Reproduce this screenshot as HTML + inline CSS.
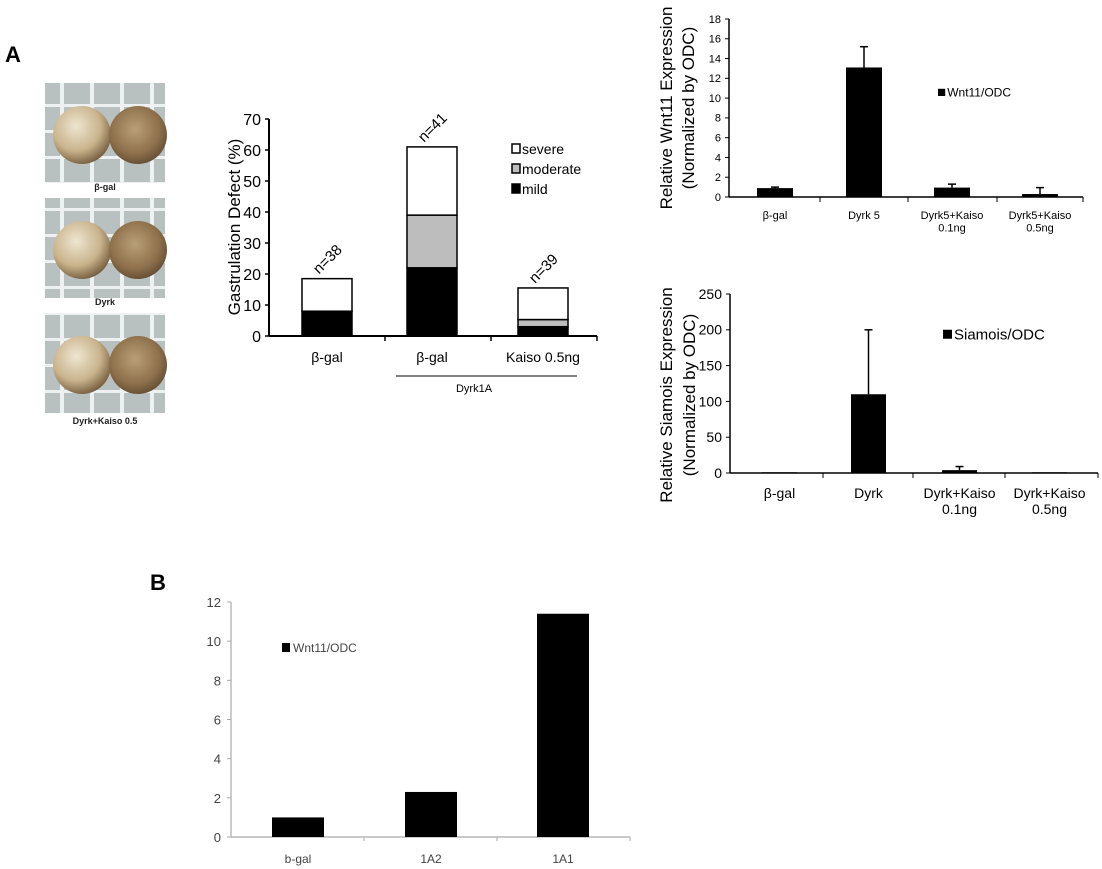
<!DOCTYPE html>
<html><head><meta charset="utf-8"><style>
body{margin:0;background:#fff;width:1102px;height:869px;overflow:hidden}
svg{display:block;font-family:"Liberation Sans",Arial,sans-serif}
</style></head><body>
<svg id="s" width="1102" height="869" viewBox="0 0 1102 869">
<defs>
<radialGradient id="egL" cx="40%" cy="35%" r="70%"><stop offset="0" stop-color="#eee6d2"/><stop offset="0.6" stop-color="#c9b38c"/><stop offset="1" stop-color="#6f5638"/></radialGradient>
<radialGradient id="egR" cx="45%" cy="40%" r="70%"><stop offset="0" stop-color="#b99f77"/><stop offset="0.6" stop-color="#8e714c"/><stop offset="1" stop-color="#54402b"/></radialGradient>
<pattern id="grid" width="30" height="26" patternUnits="userSpaceOnUse"><rect width="30" height="26" fill="#b8c0c0"/><path d="M0 1H30M2 0V26" stroke="#eef1f1" stroke-width="4"/></pattern>
</defs>
<text x="5" y="62" font-size="22" font-weight="bold">A</text>
<text x="150" y="590" font-size="22" font-weight="bold">B</text>
<g id="photos"></g>
<g id="c1"></g>
<g id="c2"></g>
<g id="c3"></g>
<g id="c4"></g>
</svg>
<script>
// Stacked chart data
const gCats = ["β-gal","β-gal","Kaiso 0.5ng"];
const gMild = [8,22,3];
const gModerate = [0,17,2.3];
const gSevere = [10.5,22,10.2];
const gN = ["n=38","n=41","n=39"];
const gTicks = [0,10,20,30,40,50,60,70];
// Wnt11 chart
const wCats = [["β-gal"],["Dyrk 5"],["Dyrk5+Kaiso","0.1ng"],["Dyrk5+Kaiso","0.5ng"]];
const wVals = [0.9,13.1,0.95,0.3];
const wErr = [0.1,2.1,0.35,0.65];
const wTicks = [0,2,4,6,8,10,12,14,16,18];
// Siamois chart
const sCats = [["β-gal"],["Dyrk"],["Dyrk+Kaiso","0.1ng"],["Dyrk+Kaiso","0.5ng"]];
const sVals = [1,110,4,1];
const sErr = [0,90,5,0];
const sTicks = [0,50,100,150,200,250];
// Panel B
const bCats = ["b-gal","1A2","1A1"];
const bVals = [1.0,2.3,11.4];
const bTicks = [0,2,4,6,8,10,12];

const NS="http://www.w3.org/2000/svg";
function mk(p,t,a,txt){const e=document.createElementNS(NS,t);for(const k in a)e.setAttribute(k,a[k]);if(txt!==undefined)e.textContent=txt;p.appendChild(e);return e;}

// Photos
const ph=document.getElementById('photos');
const panels=[[83,"β-gal",190],[198,"Dyrk",305],[313,"Dyrk+Kaiso 0.5",424]];
panels.forEach((p,i)=>{
  const r=mk(ph,'rect',{x:45,y:p[0],width:120,height:100,fill:'url(#grid)'});
  
  
  mk(ph,'circle',{cx:82,cy:p[0]+52,r:29,fill:'url(#egL)'});
  mk(ph,'circle',{cx:138,cy:p[0]+52,r:29,fill:'url(#egR)'});
  const t=mk(ph,'text',{x:105,y:p[2],'font-size':9,'font-weight':'bold','text-anchor':'middle',fill:'#222'},p[1]);
  
  
});

// Chart 1 stacked
(function(){
  const g=document.getElementById('c1');
  const x0=269,x1=597,y0=336,yTop=119,vmax=70;
  const y=v=>y0-(v/vmax)*(y0-yTop);
  const bx=[302,407,518], bw=50;
  mk(g,'line',{x1:x0,y1:y0,x2:x1,y2:y0,stroke:'#000','stroke-width':2});
  mk(g,'line',{x1:x0,y1:y0,x2:x0,y2:yTop,stroke:'#000','stroke-width':2});
  gTicks.forEach(t=>{mk(g,'line',{x1:x0-4,y1:y(t),x2:x0,y2:y(t),stroke:'#000','stroke-width':1.5});
    const l=mk(g,'text',{x:x0-8,y:y(t)+6,'font-size':16,'text-anchor':'end'},t);
    
    });
  [385,491,597].forEach(tx=>mk(g,'line',{x1:tx,y1:y0,x2:tx,y2:y0+5,stroke:'#000','stroke-width':1.5}));
  const yt=mk(g,'text',{x:0,y:0,'font-size':17,'text-anchor':'middle',transform:'translate(240,227) rotate(-90)'},'Gastrulation Defect (%)');
  
  
  gCats.forEach((c,i)=>{
    let b=0;
    [[gMild,'#000'],[gModerate,'#bdbdbd'],[gSevere,'#fff']].forEach(([arr,col])=>{
      const v=arr[i]; if(v<=0)return;
      const r=mk(g,'rect',{x:bx[i],y:y(b+v),width:bw,height:y(b)-y(b+v),fill:col,stroke:'#000','stroke-width':1.5});
      
      
      b+=v;});
    const n=mk(g,'text',{x:0,y:0,'font-size':15,transform:`translate(${bx[i]+bw/2-8},${y(b)-4}) rotate(-45)`},gN[i]);
    
    
    const l=mk(g,'text',{x:bx[i]+bw/2,y:362,'font-size':14,'text-anchor':'middle'},c);
    
    
  });
  mk(g,'line',{x1:396,y1:376,x2:577,y2:376,stroke:'#000','stroke-width':1});
  mk(g,'text',{x:474,y:392,'font-size':11,'text-anchor':'middle'},'Dyrk1A');
  [['severe','#fff',150],['moderate','#bdbdbd',170],['mild','#000',190]].forEach(([t,c,yy])=>{
    const r=mk(g,'rect',{x:512,y:yy-6,width:8,height:9,fill:c,stroke:'#000','stroke-width':1.5});
    
    
    const l=mk(g,'text',{x:522,y:yy+4,'font-size':14},t);
    
    
  });
})();

function errChart(id,cats,vals,errs,ticks,opt){
  const g=document.getElementById(id);
  const {x0,x1,y0,yTop,vmax,bx,bw,fs,lfs,ly,title,tx,legend,legX,legY,legFs}=opt;
  const y=v=>y0-(v/vmax)*(y0-yTop);
  mk(g,'line',{x1:x0,y1:y0,x2:x1,y2:y0,stroke:'#000','stroke-width':1.5});
  mk(g,'line',{x1:x0,y1:y0,x2:x0,y2:yTop,stroke:'#000','stroke-width':1.5});
  ticks.forEach(t=>{mk(g,'line',{x1:x0-4,y1:y(t),x2:x0,y2:y(t),stroke:'#000'});
    const l=mk(g,'text',{x:x0-8,y:y(t)+fs*0.35,'font-size':fs,'text-anchor':'end'},t);
    
    });
  opt.xt.forEach(t=>mk(g,'line',{x1:t,y1:y0,x2:t,y2:y0+5,stroke:'#000'}));
  cats.forEach((c,i)=>{
    const cx=bx[i]+bw/2;
    if(errs[i]>0){mk(g,'line',{x1:cx,y1:y(vals[i]),x2:cx,y2:y(vals[i]+errs[i]),stroke:'#000','stroke-width':1.5});
      mk(g,'line',{x1:cx-4,y1:y(vals[i]+errs[i]),x2:cx+4,y2:y(vals[i]+errs[i]),stroke:'#000','stroke-width':1.5});}
    const r=mk(g,'rect',{x:bx[i],y:y(vals[i]),width:bw,height:Math.max(1,y0-y(vals[i])),fill:'#000'});
    
    
    c.forEach((ln,j)=>{const l=mk(g,'text',{x:cx,y:ly+j*lfs*1.15,'font-size':lfs,'text-anchor':'middle'},ln);
      
      });
  });
  title.forEach((t,j)=>{const l=mk(g,'text',{x:0,y:0,'font-size':17,'text-anchor':'middle',transform:`translate(${tx[j]},${opt.ty}) rotate(-90)`},t);
    
    });
  mk(g,'rect',{x:legX,y:legY-legFs*0.35,width:legFs*0.6,height:legFs*0.6,fill:'#000'});
  const l=mk(g,'text',{x:legX+legFs*0.6+2,y:legY+legFs*0.3,'font-size':legFs},legend);
  
  
}
errChart('c2',wCats,wVals,wErr,wTicks,{x0:729,x1:1083,y0:197,yTop:19,vmax:18,bx:[757,846,934,1022],bw:36,fs:11,lfs:11,ly:219,
  title:['Relative Wnt11 Expression','(Normalized by ODC)'],tx:[672,694],ty:108,xt:[820,908,997,1083],legend:'Wnt11/ODC',legX:938,legY:93,legFs:12});
errChart('c3',sCats,sVals,sErr,sTicks,{x0:730,x1:1098,y0:473,yTop:294,vmax:250,bx:[851-89,851,942,1032],bw:35,fs:14,lfs:14,ly:498,
  title:['Relative  Siamois Expression','(Normalized by ODC)'],tx:[672,695],ty:395,xt:[823,913,1005,1098],legend:'Siamois/ODC',legX:943,legY:335,legFs:15});

// Panel B
(function(){
  const g=document.getElementById('c4');
  const x0=231,x1=630,y0=837,yTop=602,vmax=12;
  const y=v=>y0-(v/vmax)*(y0-yTop);
  const bx=[272,405,537],bw=52;
  mk(g,'line',{x1:x0,y1:y0,x2:x1,y2:y0,stroke:'#aaa','stroke-width':1.2});
  mk(g,'line',{x1:x0,y1:y0,x2:x0,y2:yTop,stroke:'#aaa','stroke-width':1.2});
  bTicks.forEach(t=>{mk(g,'line',{x1:x0-4,y1:y(t),x2:x0,y2:y(t),stroke:'#aaa'});
    const l=mk(g,'text',{x:x0-10,y:y(t)+5,'font-size':13,'text-anchor':'end',fill:'#444'},t);
    
    });
  [364,497,630].forEach(t=>mk(g,'line',{x1:t,y1:y0,x2:t,y2:y0+4,stroke:'#aaa'}));
  bCats.forEach((c,i)=>{
    const r=mk(g,'rect',{x:bx[i],y:y(bVals[i]),width:bw,height:y0-y(bVals[i]),fill:'#000'});
    
    
    const l=mk(g,'text',{x:bx[i]+bw/2,y:863,'font-size':12,'text-anchor':'middle',fill:'#444'},c);
    
    
  });
  mk(g,'rect',{x:282,y:643,width:8,height:9,fill:'#000'});
  const l=mk(g,'text',{x:293,y:652,'font-size':12,fill:'#444'},'Wnt11/ODC');
  
  
})();
</script>
</body></html>
